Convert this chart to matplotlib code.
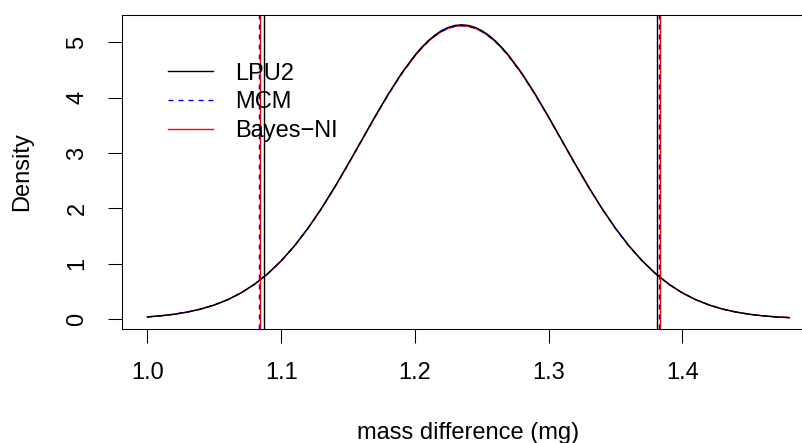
import numpy as np
import matplotlib.pyplot as plt
from matplotlib.lines import Line2D

plt.rcParams['font.family'] = ['Liberation Sans', 'DejaVu Sans']

# mass differences (mg) where the densities were evaluated, finer around the mode
mass_diff = [1.00, 1.01, 1.02, 1.03, 1.04, 1.05, 1.06, 1.07, 1.08, 1.09,
             1.10, 1.11, 1.12, 1.13, 1.14, 1.15, 1.16, 1.17, 1.18, 1.19,
             1.20, 1.205, 1.21, 1.215, 1.22, 1.225, 1.23, 1.235, 1.24, 1.245,
             1.25, 1.255, 1.26, 1.265, 1.27,
             1.28, 1.29, 1.30, 1.31, 1.32, 1.33, 1.34, 1.35, 1.36, 1.37,
             1.38, 1.39, 1.40, 1.41, 1.42, 1.43, 1.44, 1.45, 1.46, 1.47, 1.48]

# LPU2 density
lpu2_dens = [0.039, 0.059, 0.087, 0.127, 0.181, 0.254, 0.350, 0.473, 0.629, 0.821,
             1.053, 1.326, 1.642, 1.996, 2.385, 2.799, 3.226, 3.654, 4.065, 4.443,
             4.770, 4.910, 5.032, 5.133, 5.214, 5.272, 5.307, 5.319, 5.307, 5.272,
             5.214, 5.133, 5.032, 4.910, 4.770,
             4.443, 4.065, 3.654, 3.226, 2.799, 2.385, 1.996, 1.642, 1.326, 1.053,
             0.821, 0.629, 0.473, 0.350, 0.254, 0.181, 0.127, 0.087, 0.059, 0.039,
             0.026]

# MCM / Bayes-NI densities (practically on top of LPU2)
sim_dens = [0.039, 0.059, 0.087, 0.127, 0.181, 0.254, 0.350, 0.472, 0.627, 0.818,
            1.049, 1.321, 1.636, 1.989, 2.377, 2.790, 3.216, 3.643, 4.053, 4.430,
            4.756, 4.894, 5.017, 5.116, 5.198, 5.255, 5.290, 5.302, 5.290, 5.255,
            5.198, 5.116, 5.017, 4.894, 4.756,
            4.430, 4.053, 3.643, 3.216, 2.790, 2.377, 1.989, 1.636, 1.321, 1.049,
            0.818, 0.627, 0.472, 0.350, 0.254, 0.181, 0.127, 0.087, 0.059, 0.039,
            0.026]

# 95% interval limits
lpu2_ci = [1.0873, 1.3812]
mcm_ci = [1.0837, 1.3822]
bayes_ci = [1.0845, 1.3830]

labels = ['LPU2', 'MCM', 'Bayes\u2212NI']
xticks = [1.0, 1.1, 1.2, 1.3, 1.4]
yticks = [0, 1, 2, 3, 4, 5]

fs = 17

fig = plt.figure(figsize=(8.03, 4.43), dpi=100)
ax = fig.add_axes([0.1516, 0.2573, 0.8634, 0.7088])

lw = 1.0
dash = (3.6, 3.6)

# density curves
ax.plot(mass_diff, sim_dens, color='red', lw=lw)
ax.plot(mass_diff, sim_dens, color='blue', lw=lw, dashes=dash)
ax.plot(mass_diff, lpu2_dens, color='black', lw=lw)

# interval limits
for v in bayes_ci:
    ax.axvline(v, color='red', lw=lw)
for v in mcm_ci:
    ax.axvline(v, color='blue', lw=lw, dashes=dash)
for v in lpu2_ci:
    ax.axvline(v, color='black', lw=lw)

ax.set_xlim(0.9808, 1.4992)
ax.set_ylim(-0.18, 5.495)

ax.set_xticks(xticks)
ax.set_xticklabels([f'{t:.1f}' for t in xticks])
ax.set_yticks(yticks)
ax.set_yticklabels([str(t) for t in yticks], rotation=90, va='center')
ax.tick_params(direction='out', length=10.4, width=0.75, labelsize=fs,
               top=False, right=False)
ax.tick_params(axis='x', pad=13.5)
ax.tick_params(axis='y', pad=13.5)
for s in ax.spines.values():
    s.set_linewidth(0.75)

ax.set_xlabel('mass difference (mg)', fontsize=fs)
ax.xaxis.set_label_coords(0.5, -0.296)
ax.set_ylabel('Density', fontsize=fs)
ax.yaxis.set_label_coords(-0.128, 0.5)

handles = [Line2D([], [], color='black', lw=lw),
           Line2D([], [], color='blue', lw=lw, dashes=dash),
           Line2D([], [], color='red', lw=lw)]
ax.legend(handles, labels, loc='upper left', bbox_to_anchor=(0.0668, 0.8487),
          frameon=False, borderpad=0, borderaxespad=0, handlelength=1.89,
          handletextpad=0.94, labelspacing=0.285, fontsize=fs)

fig.savefig('out.png', dpi=100)
